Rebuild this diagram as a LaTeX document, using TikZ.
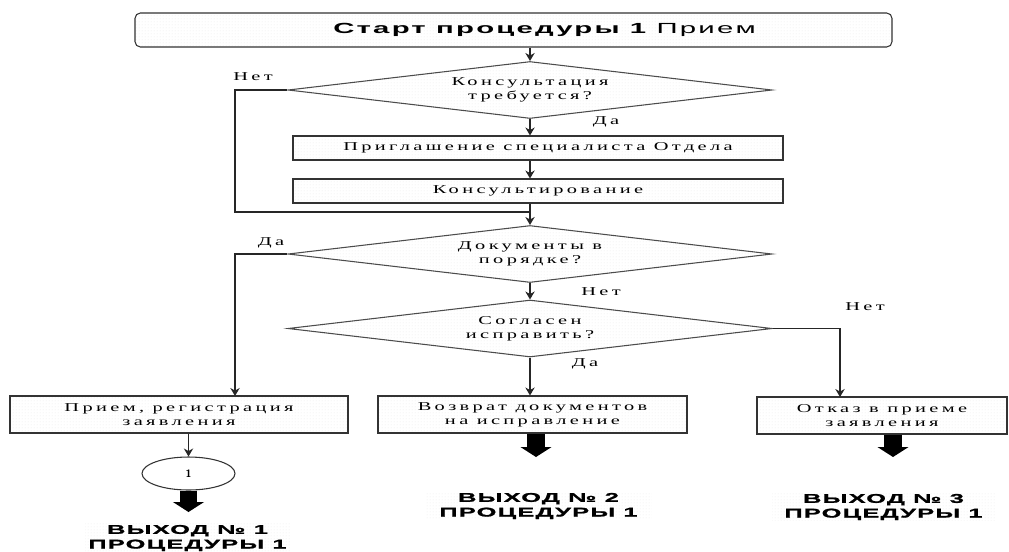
\documentclass[tikz,border=0pt]{standalone}
\usepackage{fontspec}
\setmainfont{Liberation Serif}
\newfontfamily\bodyf[FakeStretch=1.7,LetterSpace=28]{Liberation Serif}
\newfontfamily\exitf[FakeStretch=2.0,LetterSpace=10,FakeBold=1.5]{Liberation Sans}
\newfontfamily\startf[FakeStretch=2.0,LetterSpace=15]{Liberation Sans}
\newcommand\mybody{\bodyf\fontsize{9pt}{10.5pt}\selectfont}
\newcommand\myexit{\exitf\bfseries\fontsize{9.5pt}{11pt}\selectfont}
\newcommand\mystart{\startf\fontsize{11pt}{12pt}\selectfont}
\usetikzlibrary{arrows.meta,shapes.geometric,patterns}
\pgfdeclarepatternformonly{finedots}{\pgfqpoint{0pt}{0pt}}{\pgfqpoint{2.25pt}{2.25pt}}{\pgfqpoint{2.25pt}{2.25pt}}{\pgfpathcircle{\pgfqpoint{1.125pt}{1.125pt}}{0.3pt}\pgfusepath{fill}}
\begin{document}
\begin{tikzpicture}[x=0.75pt,y=-0.75pt,
  arr/.style={draw=black!85, line width=0.9pt, -{Stealth[width=7pt,length=6pt]}},
  ln/.style={draw=black!85, line width=0.9pt},
  big/.style={draw=black, line width=13pt, -{Triangle[width=23pt,length=7.5pt]}},
  boxs/.style={rectangle, draw=black!80, line width=0.8pt, pattern=finedots, pattern color=black!22, inner sep=0pt, align=center, font=\mybody},
  dia/.style={diamond, draw=black!70, line width=0.8pt, pattern=finedots, pattern color=black!22, aspect=8.5, inner sep=0pt, minimum width=363pt, minimum height=42.75pt, align=center, font=\mybody},
  lbl/.style={font=\mybody, inner sep=0pt},
  exitn/.style={pattern=finedots, pattern color=black!18, inner sep=0pt, align=center, font=\myexit}]
\useasboundingbox (0,0) rectangle (1009,551);
% nodes
\node[boxs, rounded corners=4pt, minimum width=567.75pt, minimum height=25.5pt] (start) at (513.5,30) {};
\node[font=\mystart, inner sep=0pt] (starttxt) at (544.5,30) {{\bfseries Старт процедуры 1} Прием};
\node[dia] (d1) at (530,90) {Консультация\\требуется?};
\node[boxs, minimum width=367.5pt, minimum height=18pt] (b2) at (538,148) {Приглашение специалиста Отдела};
\node[boxs, minimum width=367.5pt, minimum height=18pt] (b3) at (538,191) {Консультирование};
\node[dia] (d2) at (530,254) {Документы в\\порядке?};
\node[dia] (d3) at (530,328.5) {Согласен\\исправить?};
\node[boxs, minimum width=253.5pt, minimum height=27.75pt] (b4) at (179,414.5) {Прием, регистрация\\заявления};
\node[boxs, minimum width=231.75pt, minimum height=27.75pt] (b5) at (532.5,414.5) {Возврат документов\\на исправление};
\node[boxs, minimum width=187.5pt, minimum height=27.75pt] (b6) at (882,415.5) {Отказ в приеме\\заявления};
\node[ellipse, draw=black!80, line width=0.8pt, fill=white, minimum width=69.75pt, minimum height=24.75pt, inner sep=0pt, font=\bfseries\sffamily\footnotesize] (e1) at (188.5,473.5) {1};
\node[exitn, minimum width=153.75pt, minimum height=22.5pt] (ex1) at (187.5,538) {ВЫХОД № 1\\ПРОЦЕДУРЫ 1};
\node[exitn, minimum width=170pt, minimum height=20pt] (ex2) at (538.5,506) {ВЫХОД № 2\\ПРОЦЕДУРЫ 1};
\node[exitn, minimum width=167pt, minimum height=19pt] (ex3) at (883.5,507) {ВЫХОД № 3\\ПРОЦЕДУРЫ 1};
% labels
\node[lbl] (l1) at (253,77) {Нет};
\node[lbl] (l2) at (606,122) {Да};
\node[lbl] (l3) at (271,243) {Да};
\node[lbl] (l4) at (601,292) {Нет};
\node[lbl] (l5) at (865,307) {Нет};
\node[lbl] (l6) at (585,364) {Да};
% coordinates
\coordinate (jl) at (235,212);
\coordinate (b4in) at (235,396);
\coordinate (b6in) at (840,397);
\coordinate (t1) at (188.5,512);
\coordinate (t2) at (536,457);
\coordinate (t3) at (893,457);
% connectors
\draw[arr] (start.south -| d1.north) -- (d1.north);
\draw[arr] (d1.south) -- (d1.south |- b2.north);
\draw[arr] (b2.south -| d1.south) -- (b3.north -| d1.south);
\draw[arr] (b3.south -| d2.north) -- (d2.north);
\draw[ln] (d1.west) -| (jl) -- (jl -| d2.north);
\draw[arr] (d2.west) -| (b4in);
\draw[arr] (d2.south) -- (d3.north);
\draw[arr] (d3.south) -- (d3.south |- b5.north);
\draw[arr] (d3.east) -| (b6in);
\draw[arr] (b4.south -| e1.north) -- (e1.north);
\draw[big] (e1.south) -- (t1);
\draw[big] (b5.south -| t2) -- (t2);
\draw[big] (b6.south -| t3) -- (t3);
\end{tikzpicture}
\end{document}
